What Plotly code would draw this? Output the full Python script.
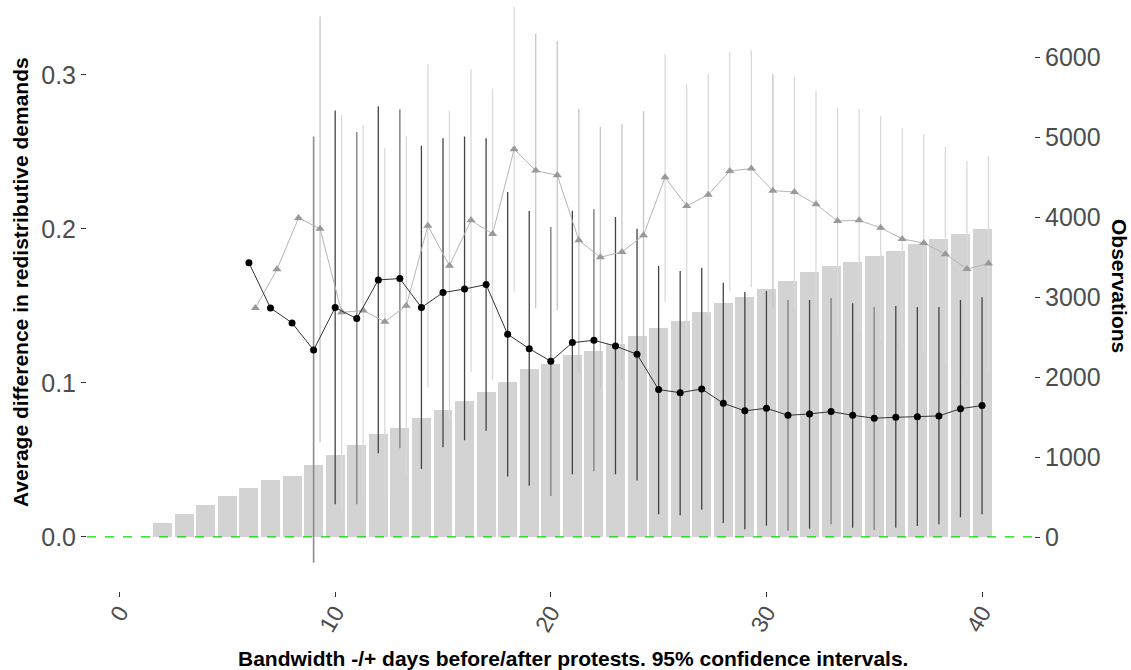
import plotly.graph_objects as go

# ---------------- data ----------------
obs_days = list(range(2, 41))
observations = [171, 284, 400, 512, 608, 712, 762, 900, 1029, 1150, 1292, 1362, 1487,
                1587, 1696, 1812, 1942, 2096, 2167, 2271, 2325, 2408, 2512, 2608, 2704,
                2817, 2925, 3004, 3100, 3200, 3308, 3388, 3438, 3512, 3579, 3662, 3725,
                3783, 3846]

est_days = list(range(6, 41))
black_mean = [0.178, 0.1487, 0.139, 0.1214, 0.149, 0.1418, 0.1669, 0.1678, 0.149, 0.1587,
              0.161, 0.1639, 0.1316, 0.1223, 0.1141, 0.1262, 0.1277, 0.124, 0.1186, 0.0957,
              0.0937, 0.0961, 0.0868, 0.0819, 0.0836, 0.079, 0.0799, 0.0814, 0.079, 0.0771,
              0.0777, 0.0781, 0.0786, 0.0833, 0.0853]
black_upper = [None, None, None, 0.26, 0.277, 0.263, 0.2797, 0.2777, 0.254, 0.259,
               0.26, 0.259, 0.224, 0.2117, 0.2013, 0.2119, 0.2128, 0.2078, 0.2002, 0.176,
               0.1727, 0.1749, 0.165, 0.159, 0.1597, 0.1539, 0.1539, 0.1552, 0.1517, 0.1494,
               0.15, 0.1494, 0.1494, 0.1539, 0.1556]
black_lower = [None, None, None, -0.0167, 0.0212, 0.0212, 0.0543, 0.0576, 0.0442, 0.0582,
               0.0628, 0.069, 0.0392, 0.0333, 0.0266, 0.0407, 0.0427, 0.0407, 0.0366, 0.0147,
               0.0141, 0.0177, 0.009, 0.005, 0.0073, 0.0041, 0.0054, 0.0082, 0.006, 0.0045,
               0.006, 0.0071, 0.0082, 0.0128, 0.0147]

gray_mean = [0.1487, 0.1738, 0.2071, 0.2002, 0.1459, 0.147, 0.1398, 0.1502, 0.2021, 0.1762,
             0.2056, 0.1968, 0.2518, 0.2379, 0.2349, 0.1927, 0.1816, 0.1851, 0.1959, 0.2336,
             0.2149, 0.2223, 0.2377, 0.2392, 0.2249, 0.224, 0.216, 0.2052, 0.2056, 0.2008,
             0.1935, 0.1909, 0.1836, 0.174, 0.1775]
gray_upper = [None, None, None, 0.338, 0.274, 0.2675, 0.2524, 0.26, 0.307, 0.2766,
              0.3039, 0.2913, 0.344, 0.3266, 0.3223, 0.2779, 0.2664, 0.2682, 0.2766, 0.3136,
              0.294, 0.3006, 0.3151, 0.316, 0.3006, 0.2989, 0.2898, 0.2786, 0.2781, 0.2732,
              0.2654, 0.2617, 0.2534, 0.244, 0.2474]
gray_lower = [None, None, None, 0.0615, 0.0177, 0.0262, 0.0266, 0.0398, 0.097, 0.0755,
              0.1071, 0.1017, 0.1593, 0.1485, 0.1474, 0.1063, 0.0963, 0.1015, 0.1152, 0.1526,
              0.1353, 0.1437, 0.1597, 0.1621, 0.1485, 0.1487, 0.1409, 0.1314, 0.1327, 0.1279,
              0.1214, 0.1197, 0.1125, 0.1031, 0.1069]

# days whose intervals are drawn in a different shade
black_light_days = [9, 11, 13, 20, 22, 31, 33, 35]
gray_dark_days = [9, 19, 20, 21, 22, 23, 24, 30]

x_ticks = [0, 10, 20, 30, 40]
y_left_ticks = [0.0, 0.1, 0.2, 0.3]
y_left_labels = ["0.0", "0.1", "0.2", "0.3"]
y_right_ticks = [0, 1000, 2000, 3000, 4000, 5000, 6000]

# ---------------- styling ----------------
FONT = "Liberation Sans, Arial, sans-serif"
DODGE = 0.3

fig = go.Figure()

fig.add_trace(go.Bar(x=obs_days, y=observations, width=0.88, marker_color="#d3d3d3",
                     marker_line_width=0, yaxis="y", showlegend=False, hoverinfo="skip"))


def ci_trace(days, mean, lo, hi, shift, sel, color, width):
    xs, ys, up, dn = [], [], [], []
    for d, m, l, h in zip(days, mean, lo, hi):
        if l is None or h is None or not sel(d):
            continue
        xs.append(d + shift)
        ys.append(m)
        up.append(h - m)
        dn.append(m - l)
    return go.Scatter(x=xs, y=ys, mode="markers", marker=dict(size=1, opacity=0),
                      error_y=dict(type="data", symmetric=False, array=up, arrayminus=dn,
                                   width=0, thickness=width, color=color),
                      yaxis="y2", showlegend=False, hoverinfo="skip")


fig.add_trace(ci_trace(est_days, gray_mean, gray_lower, gray_upper, DODGE,
                       lambda d: d not in gray_dark_days, "#dadada", 1.3))
fig.add_trace(ci_trace(est_days, gray_mean, gray_lower, gray_upper, DODGE,
                       lambda d: d in gray_dark_days, "#c6c6c6", 1.3))
fig.add_trace(ci_trace(est_days, black_mean, black_lower, black_upper, 0,
                       lambda d: d not in black_light_days, "#444444", 1.3))
fig.add_trace(ci_trace(est_days, black_mean, black_lower, black_upper, 0,
                       lambda d: d in black_light_days, "#8e8e8e", 1.6))

fig.add_trace(go.Scatter(x=[d + DODGE for d in est_days], y=gray_mean, mode="lines+markers",
                         line=dict(color="#b5b5b5", width=1),
                         marker=dict(symbol="triangle-up", size=8, color="#999999"),
                         yaxis="y2", showlegend=False, hoverinfo="skip"))
fig.add_trace(go.Scatter(x=est_days, y=black_mean, mode="lines+markers",
                         line=dict(color="#333333", width=1),
                         marker=dict(symbol="circle", size=7, color="#000000"),
                         yaxis="y2", showlegend=False, hoverinfo="skip"))

fig.add_shape(type="line", xref="paper", x0=0, x1=1, yref="y2", y0=0, y1=0,
              line=dict(color="#00dd00", width=1.3, dash="dash"), layer="above")

tickfont = dict(family=FONT, size=25, color="#4d4d4d")
xtickfont = dict(family=FONT, size=23, color="#4d4d4d")
titlefont = dict(family=FONT, size=21, color="#000000")

fig.update_layout(
    width=1131, height=670,
    margin=dict(l=87, r=97, t=0, b=79),
    paper_bgcolor="white", plot_bgcolor="white",
    bargap=0,
    xaxis=dict(range=[-1.51, 42.41], tickvals=x_ticks, ticktext=[str(v) for v in x_ticks],
               tickangle=-60, ticks="outside", ticklen=5, tickcolor="#333333", tickwidth=1,
               ticklabelstandoff=-7,
               showgrid=False, zeroline=False, showline=False, tickfont=xtickfont),
    yaxis=dict(side="right", range=[-675, 6712.5], tickvals=y_right_ticks,
               ticktext=[str(v) for v in y_right_ticks],
               ticks="outside", ticklen=5, tickcolor="#333333", tickwidth=1,
               showgrid=False, zeroline=False, showline=False, tickfont=tickfont),
    yaxis2=dict(overlaying="y", side="left", range=[-0.0351, 0.3487],
                tickvals=y_left_ticks, ticktext=y_left_labels,
                ticks="outside", ticklen=5, tickcolor="#333333", tickwidth=1,
                showgrid=False, zeroline=False, showline=False, tickfont=tickfont),
    annotations=[
        dict(text="<b>Average difference in redistributive demands</b>", textangle=-90,
             xref="paper", yref="paper", x=(20 - 87) / 947, y=1 - 282 / 591,
             xanchor="center", yanchor="middle", showarrow=False, font=titlefont),
        dict(text="<b>Observations</b>", textangle=90,
             xref="paper", yref="paper", x=(1120 - 87) / 947, y=1 - 286 / 591,
             xanchor="center", yanchor="middle", showarrow=False, font=titlefont),
        dict(text="<b>Bandwidth -/+ days before/after protests. 95% confidence intervals.</b>",
             xref="paper", yref="paper", x=(573 - 87) / 947, y=1 - 658 / 591,
             xanchor="center", yanchor="middle", showarrow=False, font=titlefont),
    ],
)

fig.write_html("out.html")
